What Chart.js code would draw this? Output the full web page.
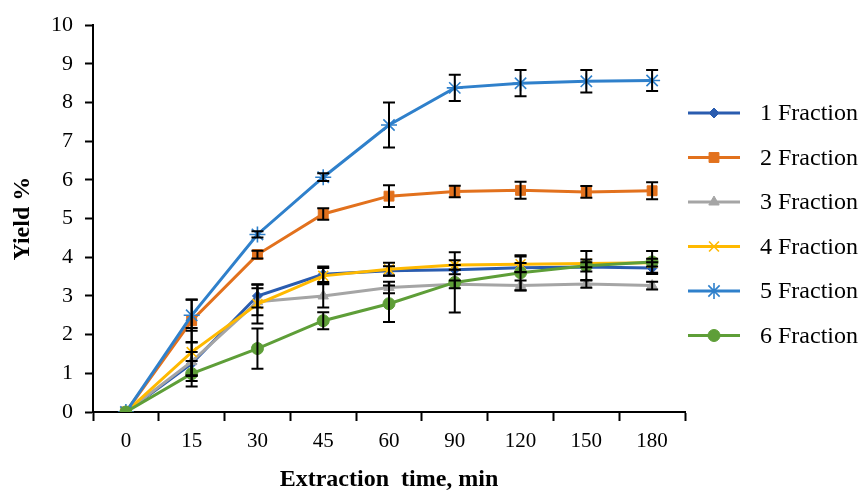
<!DOCTYPE html>
<html>
<head>
<meta charset="utf-8">
<script src="https://cdn.jsdelivr.net/npm/chart.js@4"></script>
<style>
  html, body { margin: 0; padding: 0; background: #fff; }
  #wrap { width: 868px; height: 494px; }
</style>
</head>
<body>
<div id="wrap"><canvas id="chartYield" width="868" height="494"></canvas></div>
<script>
// datos
const tiempos = ["0", "15", "30", "45", "60", "90", "120", "150", "180"];
const nombres = ["1 Fraction", "2 Fraction", "3 Fraction", "4 Fraction", "5 Fraction", "6 Fraction"];

const frac1 = [0, 1.25, 3.0, 3.56, 3.65, 3.68, 3.73, 3.75, 3.72];
const frac2 = [0, 2.36, 4.07, 5.12, 5.58, 5.7, 5.73, 5.69, 5.72];
const frac3 = [0, 1.3, 2.85, 3.0, 3.22, 3.3, 3.27, 3.31, 3.27];
const frac4 = [0, 1.55, 2.79, 3.52, 3.69, 3.8, 3.82, 3.84, 3.86];
const frac5 = [0, 2.5, 4.59, 6.07, 7.42, 8.38, 8.5, 8.55, 8.57];
const frac6 = [0, 0.99, 1.64, 2.36, 2.8, 3.35, 3.6, 3.78, 3.88];

// desviaciones (barras de error)
const err1 = [0, 0.3, 0.3, 0.2, 0.12, 0.12, 0.12, 0.12, 0.15];
const err2 = [0, 0.55, 0.1, 0.15, 0.28, 0.15, 0.22, 0.15, 0.22];
const err3 = [0, 0.5, 0.35, 0.3, 0.15, 0.1, 0.13, 0.1, 0.1];
const err4 = [0, 0.62, 0.5, 0.2, 0.17, 0.12, 0.2, 0.1, 0.1];
const err5 = [0, 0.4, 0.08, 0.1, 0.58, 0.34, 0.34, 0.29, 0.27];
const err6 = [0, 0.33, 0.52, 0.22, 0.47, 0.78, 0.45, 0.38, 0.28];

const colores = ["#2A5CAF", "#E2711D", "#A5A5A5", "#FFB900", "#2F80CB", "#5E9E38"];
const marcas = ["rectRot", "rect", "triangle", "crossRot", "star", "circle"];
const radios = [5, 7, 6, 7, 8, 6];

const series = [frac1, frac2, frac3, frac4, frac5, frac6];
const errores = [err1, err2, err3, err4, err5, err6];

const FUENTE = "'Liberation Serif', 'Times New Roman', serif";

const datasets = series.map((d, i) => ({
  label: nombres[i],
  data: d,
  errores: errores[i],
  borderColor: colores[i],
  backgroundColor: colores[i],
  pointBackgroundColor: colores[i],
  pointBorderColor: colores[i],
  pointStyle: marcas[i],
  pointRadius: radios[i],
  pointBorderWidth: (marcas[i] === "star" || marcas[i] === "crossRot") ? 1.6 : 1,
  borderWidth: 3,
  tension: 0,
  fill: false,
  order: 5 - i,
}));

// barras de error en negro
const barrasError = {
  id: "barrasError",
  afterDatasetsDraw(chart) {
    const ctx = chart.ctx;
    const x = chart.scales.x;
    const y = chart.scales.y;
    ctx.save();
    ctx.strokeStyle = "#000";
    ctx.lineWidth = 2;
    chart.data.datasets.forEach((ds) => {
      ds.data.forEach((v, j) => {
        const e = ds.errores[j];
        if (!e) return;
        const px = x.getPixelForValue(j);
        const top = y.getPixelForValue(v + e);
        const bot = y.getPixelForValue(v - e);
        ctx.beginPath();
        ctx.moveTo(px, top);
        ctx.lineTo(px, bot);
        ctx.moveTo(px - 6, top);
        ctx.lineTo(px + 6, top);
        ctx.moveTo(px - 6, bot);
        ctx.lineTo(px + 6, bot);
        ctx.stroke();
      });
    });
    ctx.restore();
  },
};

// leyenda a la derecha: linea + marcador + texto
const leyenda = {
  id: "leyenda",
  afterDraw(chart) {
    const ctx = chart.ctx;
    ctx.save();
    chart.data.datasets.forEach((ds, i) => {
      const yy = 113 + i * 44.5;
      ctx.strokeStyle = ds.borderColor;
      ctx.lineWidth = 3;
      ctx.beginPath();
      ctx.moveTo(688, yy);
      ctx.lineTo(740, yy);
      ctx.stroke();
      ctx.fillStyle = ds.pointBackgroundColor;
      ctx.strokeStyle = ds.pointBorderColor;
      ctx.lineWidth = ds.pointBorderWidth;
      Chart.helpers.drawPoint(ctx, {
        pointStyle: ds.pointStyle,
        radius: ds.pointRadius,
        borderWidth: ds.pointBorderWidth,
        rotation: 0,
      }, 714, yy);
      ctx.fillStyle = "#000";
      ctx.font = "24px " + FUENTE;
      ctx.textBaseline = "middle";
      ctx.textAlign = "left";
      ctx.fillText(ds.label, 760, yy + 1);
    });
    ctx.restore();
  },
};

new Chart(document.getElementById("chartYield"), {
  type: "line",
  data: { labels: tiempos, datasets },
  plugins: [barrasError, leyenda],
  options: {
    responsive: false,
    animation: false,
    layout: { padding: { left: 0, right: 183, top: 23, bottom: 0 } },
    plugins: {
      legend: { display: false },
      tooltip: { enabled: false },
    },
    scales: {
      x: {
        type: "category",
        offset: true,
        afterFit: (s) => { s.height = 82; },
        border: { display: true, color: "#000", width: 2 },
        grid: {
          offset: true,
          drawOnChartArea: false,
          drawTicks: true,
          tickLength: 9,
          tickWidth: 2,
          tickColor: "#000",
        },
        ticks: {
          color: "#000",
          padding: 8,
          maxRotation: 0,
          font: { family: FUENTE, size: 21 },
        },
        title: {
          display: true,
          text: "Extraction  time, min",
          color: "#000",
          padding: { top: 4, bottom: 0 },
          font: { family: FUENTE, size: 24, weight: "bold" },
        },
      },
      y: {
        min: 0,
        max: 10,
        afterFit: (s) => { s.width = 93; },
        border: { display: true, color: "#000", width: 2 },
        grid: {
          drawOnChartArea: false,
          drawTicks: true,
          tickLength: 8,
          tickWidth: 2,
          tickColor: "#000",
        },
        ticks: {
          stepSize: 1,
          color: "#000",
          padding: 12,
          font: { family: FUENTE, size: 22 },
        },
        title: {
          display: true,
          text: "Yield %",
          color: "#000",
          padding: { top: 8, bottom: 0 },
          font: { family: FUENTE, size: 24, weight: "bold" },
        },
      },
    },
  },
});
</script>
</body>
</html>
